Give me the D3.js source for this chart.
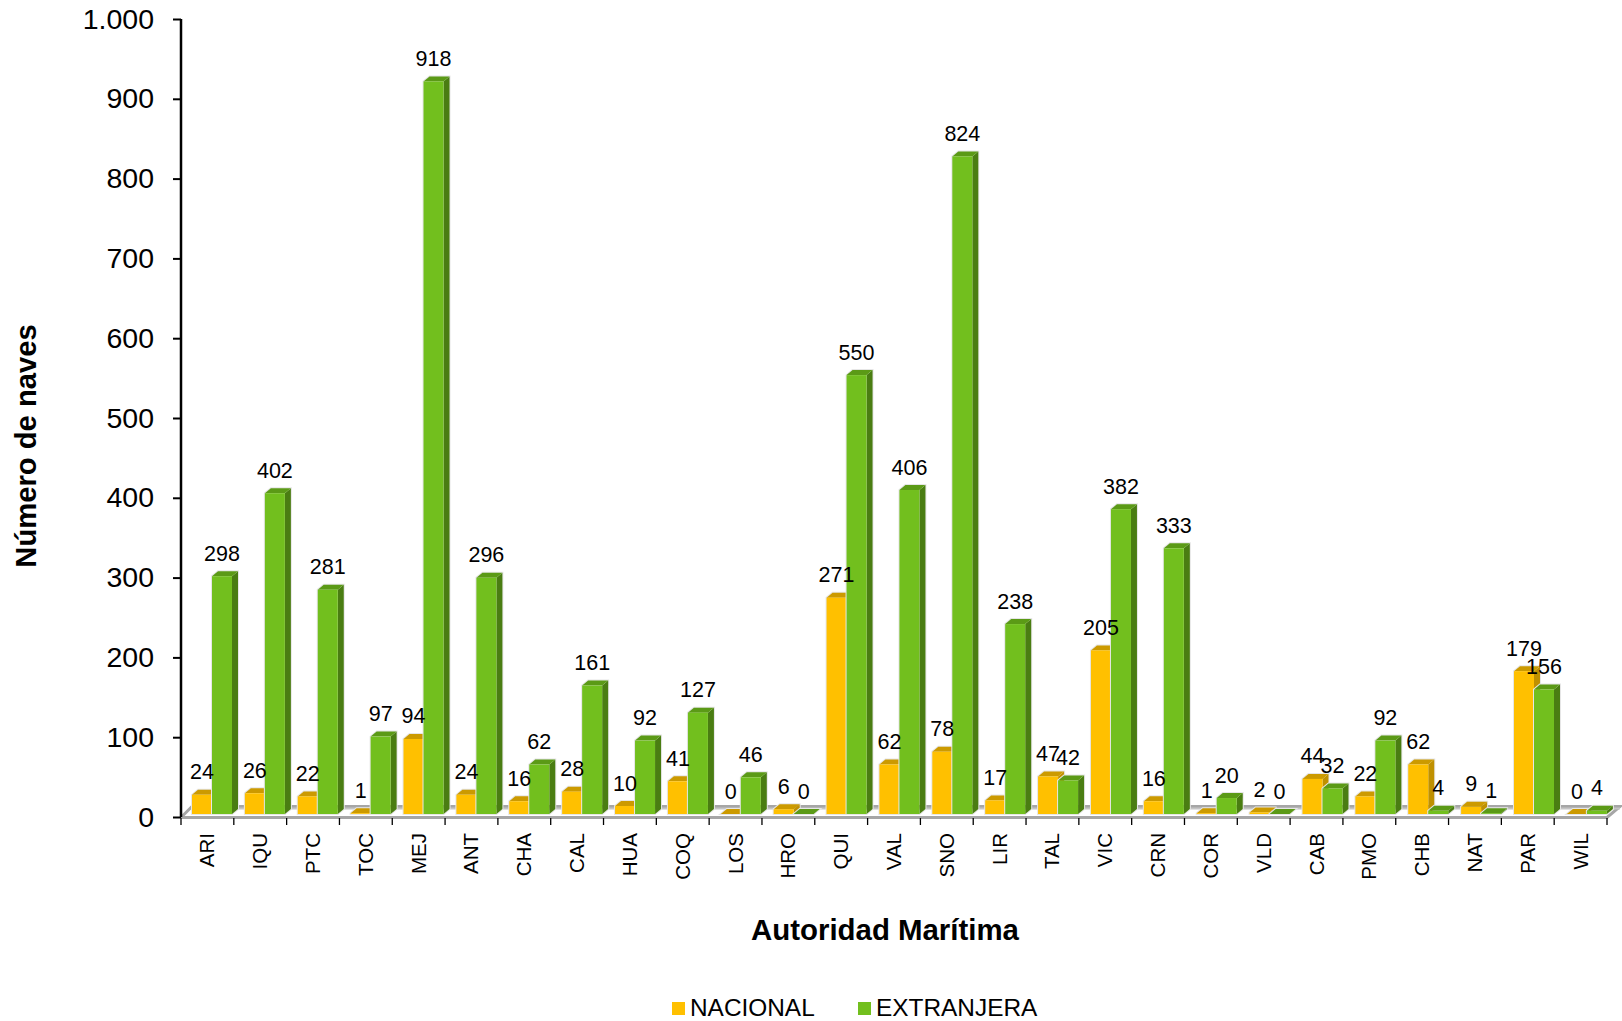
<!DOCTYPE html>
<html>
<head>
<meta charset="utf-8">
<script src="https://cdn.jsdelivr.net/npm/d3@7/dist/d3.min.js"></script>
<style>
html,body{margin:0;padding:0;background:#fff;}
svg{display:block;font-family:"Liberation Sans",Arial,sans-serif;}
</style>
</head>
<body>
<div id="chart"></div>
<script>
const categories = ["ARI","IQU","PTC","TOC","MEJ","ANT","CHA","CAL","HUA","COQ","LOS","HRO","QUI","VAL","SNO","LIR","TAL","VIC","CRN","COR","VLD","CAB","PMO","CHB","NAT","PAR","WIL"];
const nacional = [24,26,22,1,94,24,16,28,10,41,0,6,271,62,78,17,47,205,16,1,2,44,22,62,9,179,0];
const extranjera = [298,402,281,97,918,296,62,161,92,127,46,0,550,406,824,238,42,382,333,20,0,32,92,4,1,156,4];
const yTicks = [0,100,200,300,400,500,600,700,800,900,1000];
const seriesNames = ["NACIONAL","EXTRANJERA"];

const W = 1622, H = 1021;
const svg = d3.select("#chart").append("svg").attr("width",W).attr("height",H);
const y = d3.scaleLinear().domain([0,1000]).range([817,19]);
const x = d3.scaleBand().domain(categories).range([181,1607]);
const xBars = d3.scaleBand().domain(categories).range([192,192+27*52.88]);
const barW = 20, dx = 6, dy = 5, lift = 3;
const colors = {
  n:{front:"#FFC000",side:"#BF9000",top:"#CC9A00"},
  e:{front:"#72BF1E",side:"#4A7D12",top:"#5B9A16"}
};

// floor
const floor = svg.append("g");
floor.append("path")
  .attr("d",d3.line()([[181,817.5],[1607,817.5],[1620,806.5],[192,806.5],[181,817.5]]))
  .attr("fill","#fff").attr("stroke","#a6a6a6").attr("stroke-width",3);
floor.append("line").attr("x1",192).attr("x2",1620).attr("y1",808.5).attr("y2",808.5)
  .attr("stroke","#c4c4c4").attr("stroke-width",2);

// y axis
const yAxis = svg.append("g").attr("transform","translate(181,0)")
  .call(d3.axisLeft(y).tickValues(yTicks).tickSize(8).tickPadding(19)
    .tickFormat(d=> d>=1000 ? d3.format(",")(d).replace(",",".") : d));
yAxis.selectAll("path.domain").attr("stroke","#000").attr("stroke-width",2.5).attr("d","M0,19V817");
yAxis.selectAll("line").attr("stroke","#000").attr("stroke-width",2);
yAxis.selectAll("text").attr("font-size",28.5).attr("fill","#000").attr("font-family","Liberation Sans");

// x axis
const xAxis = svg.append("g").attr("transform","translate(0,818)")
  .call(d3.axisBottom(x).tickSize(0).tickPadding(0));
xAxis.select("path.domain").remove();
xAxis.selectAll("text")
  .attr("font-size",20.5).attr("fill","#000").attr("font-family","Liberation Sans")
  .attr("text-anchor","end").attr("dy",null).attr("y",null)
  .attr("transform","translate(7,15) rotate(-90)");
svg.append("g").selectAll("line").data(d3.range(categories.length+1)).join("line")
  .attr("x1",i=>x.range()[0]+i*x.step()).attr("x2",i=>x.range()[0]+i*x.step())
  .attr("y1",818).attr("y2",825).attr("stroke","#000").attr("stroke-width",1.3);

// bars
function bar3d(g, x0, v, c){
  const b = y(0)-lift, t = y(v)-lift, x1 = x0+barW;
  const hull = [[x0,b],[x0,t],[x0+dx,t-dy],[x1+dx,t-dy],[x1+dx,b-dy],[x1,b]];
  g.append("path").attr("d",d3.line()(hull)+"Z").attr("fill","none")
    .attr("stroke","#e6e6e6").attr("stroke-width",2);
  g.append("path").attr("d",d3.line()([[x1,b],[x1,t],[x1+dx,t-dy],[x1+dx,b-dy]])+"Z").attr("fill",c.side);
  g.append("path").attr("d",d3.line()([[x0,t],[x0+dx,t-dy],[x1+dx,t-dy],[x1,t]])+"Z").attr("fill",c.top);
  g.append("rect").attr("x",x0).attr("y",t).attr("width",barW).attr("height",Math.max(0,b-t)).attr("fill",c.front);
}
const bars = svg.append("g");
categories.forEach((cat,i)=>{
  const g = bars.append("g");
  bar3d(g, xBars(cat), nacional[i], colors.n);
  bar3d(g, xBars(cat)+barW, extranjera[i], colors.e);
});

// value labels
const labels = svg.append("g").attr("font-size",21.5).attr("fill","#000").attr("text-anchor","middle");
categories.forEach((cat,i)=>{
  [[nacional[i],0],[extranjera[i],1]].forEach(([v,k])=>{
    labels.append("text")
      .attr("x",xBars(cat)+barW*k+barW/2)
      .attr("y",y(v)-lift-15.5)
      .text(v);
  });
});

// titles
svg.append("text").attr("x",885).attr("y",940).attr("text-anchor","middle")
  .attr("font-size",29.4).attr("font-weight","bold").text("Autoridad Marítima");
svg.append("text").attr("transform","translate(36,446) rotate(-90)").attr("text-anchor","middle")
  .attr("font-size",29.2).attr("font-weight","bold").text("Número de naves");

// legend
const legendX = [672,858];
const legend = svg.append("g");
seriesNames.forEach((name,i)=>{
  legend.append("rect").attr("x",legendX[i]).attr("y",1002).attr("width",13).attr("height",13)
    .attr("fill",i===0?colors.n.front:colors.e.front);
  legend.append("text").attr("x",legendX[i]+18).attr("y",1016).attr("font-size",24.4).text(name);
});
</script>
</body>
</html>
